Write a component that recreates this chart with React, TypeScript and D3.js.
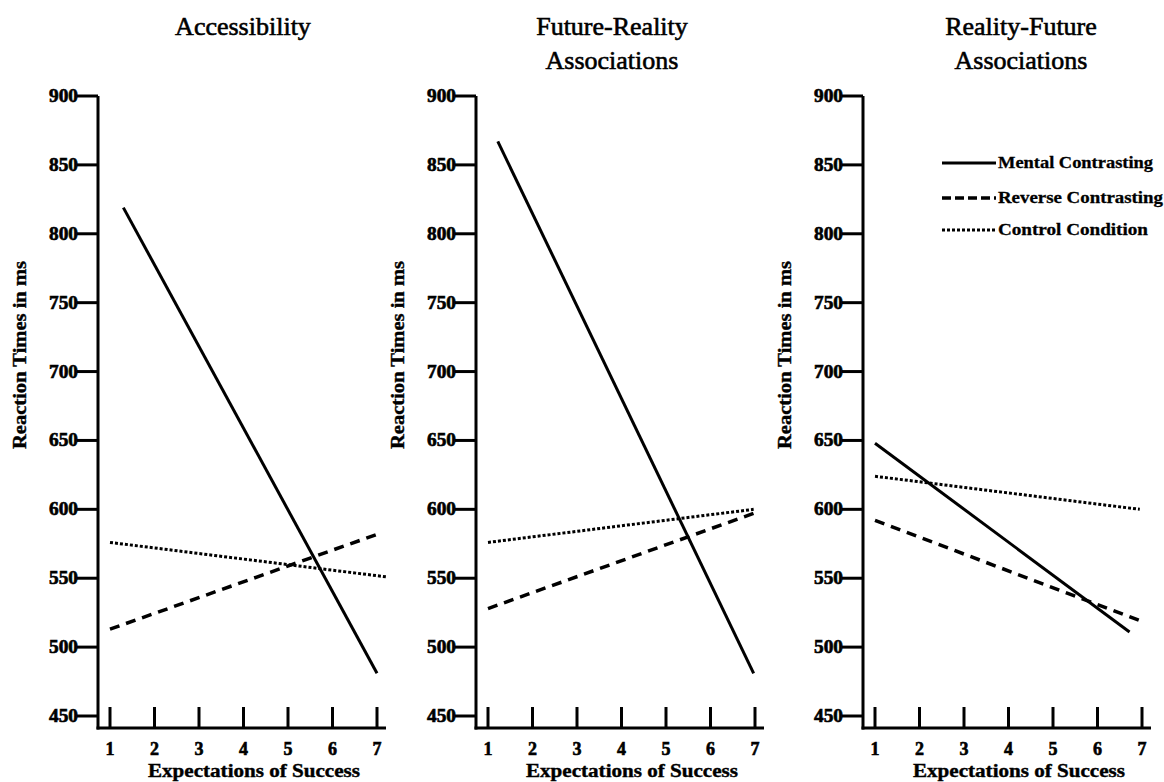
import React from "react";
import * as d3 from "d3";

const xTicks = [1, 2, 3, 4, 5, 6, 7];
const yTicks = [450, 500, 550, 600, 650, 700, 750, 800, 850, 900];
const seriesNames = ["Mental Contrasting", "Reverse Contrasting", "Control Condition"];
const panelTitles = [["Accessibility"], ["Future-Reality", "Associations"], ["Reality-Future", "Associations"]];

// endpoints [x, y] for each series per panel
const accessibilityMental = [[1.3, 819], [7, 481]];
const accessibilityReverse = [[1, 513], [7.1, 583]];
const accessibilityControl = [[1, 576], [7.2, 551]];
const futureRealityMental = [[1.22, 867], [6.97, 481]];
const futureRealityReverse = [[1, 528], [7.05, 598]];
const futureRealityControl = [[1, 576], [6.97, 600]];
const realityFutureMental = [[1, 648], [6.72, 511]];
const realityFutureReverse = [[1, 592], [6.97, 519]];
const realityFutureControl = [[1, 624], [6.95, 600]];

const panelData = [
  [accessibilityMental, accessibilityReverse, accessibilityControl],
  [futureRealityMental, futureRealityReverse, futureRealityControl],
  [realityFutureMental, realityFutureReverse, realityFutureControl],
];

const panelX0 = [98, 476, 863];
const titleCx = [243, 612, 1021];
const dashes = [null, "10,7", "3,2"];
const widths = [3, 3.5, 3];

const serif = { fontFamily: "Liberation Serif" };

function Panel({ idx }: { idx: number }) {
  const X0 = panelX0[idx];
  const x = d3.scaleLinear().domain([1, 7]).range([X0 + 12, X0 + 279]);
  const y = d3.scaleLinear().domain([450, 900]).range([716, 96]);
  const line = d3
    .line<number[]>()
    .x((d) => x(d[0]))
    .y((d) => y(d[1]));
  const axisY = 728;
  const titles = panelTitles[idx];
  return (
    <g>
      {titles.map((t, i) => (
        <text
          key={t}
          x={titleCx[idx]}
          y={35 + i * 34}
          textAnchor="middle"
          style={serif}
          fontSize={26}
          fontWeight="normal"
          stroke="#000"
          strokeWidth={0.6}
          fill="#000"
        >
          {t}
        </text>
      ))}
      {/* y axis */}
      <line x1={X0} x2={X0} y1={y(900)} y2={axisY + 1.5} stroke="#000" strokeWidth={3} />
      {yTicks.map((t) => (
        <g key={t}>
          <line x1={X0 - 21} x2={X0} y1={y(t)} y2={y(t)} stroke="#000" strokeWidth={3} />
          <text
            x={X0 - 20}
            y={y(t) + 6}
            textAnchor="end"
            style={serif}
            fontSize={18}
            fontWeight="bold"
            stroke="#000"
            strokeWidth={0.6}
            textLength={29}
            lengthAdjust="spacingAndGlyphs"
            fill="#000"
          >
            {t}
          </text>
        </g>
      ))}
      <text
        transform={`translate(${X0 - 72},355) rotate(-90)`}
        textAnchor="middle"
        style={serif}
        fontSize={19}
        fontWeight="bold"
        stroke="#000"
        strokeWidth={0.4}
        textLength={188}
        lengthAdjust="spacingAndGlyphs"
        fill="#000"
      >
        Reaction Times in ms
      </text>
      {/* x axis */}
      <line x1={X0 - 1.5} x2={X0 + 288} y1={axisY} y2={axisY} stroke="#000" strokeWidth={3} />
      {xTicks.map((t) => (
        <g key={t}>
          <line x1={x(t)} x2={x(t)} y1={707} y2={axisY} stroke="#000" strokeWidth={3} />
          <text
            x={x(t)}
            y={755}
            textAnchor="middle"
            style={serif}
            fontSize={18}
            fontWeight="bold"
            stroke="#000"
            strokeWidth={0.6}
            fill="#000"
          >
            {t}
          </text>
        </g>
      ))}
      <text
        x={X0 + 156}
        y={777}
        textAnchor="middle"
        style={serif}
        fontSize={18}
        fontWeight="bold"
        stroke="#000"
        strokeWidth={0.4}
        textLength={212}
        lengthAdjust="spacingAndGlyphs"
        fill="#000"
      >
        Expectations of Success
      </text>
      {panelData[idx].map((s, i) => (
        <path
          key={i}
          d={line(s as number[][]) || ""}
          fill="none"
          stroke="#000"
          strokeWidth={widths[i]}
          strokeDasharray={dashes[i] || undefined}
        />
      ))}
    </g>
  );
}

function Legend() {
  const rows = [163, 198, 230];
  return (
    <g>
      {seriesNames.map((n, i) => (
        <g key={n}>
          <line
            x1={942}
            x2={996}
            y1={rows[i]}
            y2={rows[i]}
            stroke="#000"
            strokeWidth={widths[i]}
            strokeDasharray={i === 1 ? "9,4" : i === 2 ? "3,2" : undefined}
          />
          <text
            x={998}
            y={rows[i] + 5}
            style={serif}
            fontSize={17}
            fontWeight="bold"
            stroke="#000"
            strokeWidth={0.3}
            textLength={[155, 165, 150][i]}
            lengthAdjust="spacingAndGlyphs"
            fill="#000"
          >
            {n}
          </text>
        </g>
      ))}
    </g>
  );
}

export default function App() {
  return (
    <svg
      width={1164}
      height={782}
      style={{ position: "absolute", left: 0, top: 0, background: "#fff" }}
    >
      <rect width={1164} height={782} fill="#fff" />
      {[0, 1, 2].map((i) => (
        <Panel key={i} idx={i} />
      ))}
      <Legend />
    </svg>
  );
}
